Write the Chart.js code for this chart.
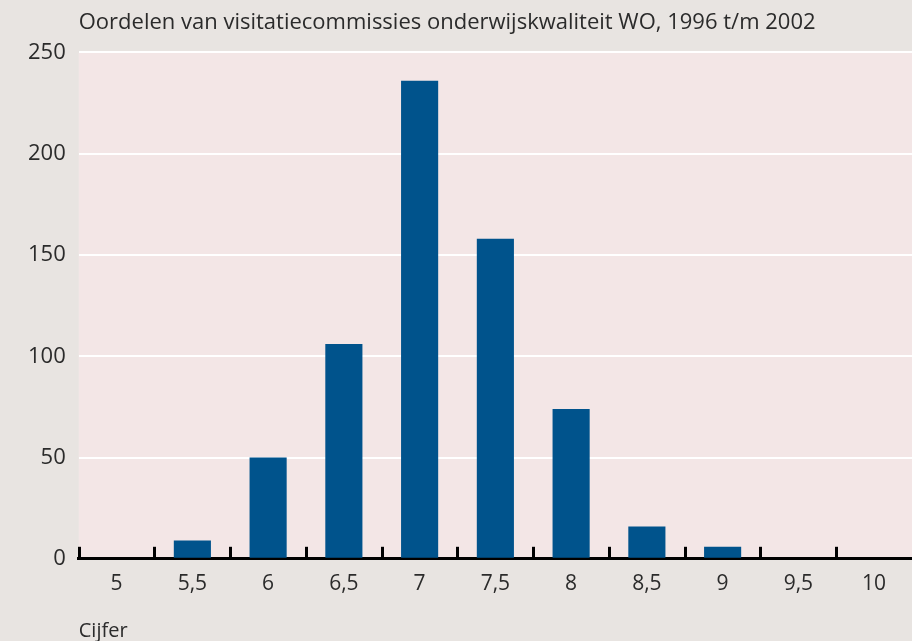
<!DOCTYPE html>
<html>
<head>
<meta charset="utf-8">
<script src="https://cdn.jsdelivr.net/npm/chart.js@4/dist/chart.umd.min.js"></script>
<style>
  html, body { margin: 0; padding: 0; background: #e8e4e1; }
  #wrap { width: 912px; height: 641px; }
</style>
</head>
<body>
<div id="wrap"><canvas id="chartCijfers" width="912" height="641"></canvas></div>
<script>
// oordelen per cijfer
const cijfers = ['5', '5,5', '6', '6,5', '7', '7,5', '8', '8,5', '9', '9,5', '10']
const aantallen = [0, 9, 50, 106, 236, 158, 74, 16, 6, 0, 0]
const yTicks = [0, 50, 100, 150, 200, 250]

const fontFam = '"Open Sans", Lato, sans-serif'
const tekst = '#2b2b2b'

// roze plotvlak
const plotAchtergrond = {
  id: 'plotAchtergrond',
  beforeDraw(chart) {
    const { ctx, chartArea } = chart
    ctx.save()
    ctx.fillStyle = '#f3e6e6'
    ctx.fillRect(chartArea.left, chartArea.top, chartArea.right - chartArea.left, chartArea.bottom - chartArea.top)
    ctx.restore()
  }
}

// korte streepjes omhoog tussen de categorieen
const streepjes = {
  id: 'streepjes',
  afterDatasetsDraw(chart) {
    const { ctx } = chart
    const x = chart.scales.x
    const n = cijfers.length
    const stap = (x.right - x.left) / n
    ctx.save()
    ctx.strokeStyle = '#000'
    ctx.lineWidth = 3
    for (let i = 0; i < n; i++) {
      const px = Math.round(x.left + i * stap) + 0.5
      ctx.beginPath()
      ctx.moveTo(px, x.top)
      ctx.lineTo(px, x.top - 12)
      ctx.stroke()
    }
    ctx.restore()
  }
}

const ctx = document.getElementById('chartCijfers').getContext('2d')
new Chart(ctx, {
  type: 'bar',
  data: {
    labels: cijfers,
    datasets: [{
      label: 'Aantal oordelen',
      data: aantallen,
      backgroundColor: '#00538c',
      barPercentage: 0.49,
      categoryPercentage: 1
    }]
  },
  options: {
    responsive: false,
    animation: false,
    layout: { padding: { left: 15, right: 0, top: 0, bottom: 0 } },
    plugins: {
      legend: { display: false },
      tooltip: { enabled: false },
      title: {
        display: true,
        text: 'Oordelen van visitatiecommissies onderwijskwaliteit WO, 1996 t/m 2002',
        align: 'start',
        fullSize: false,
        color: tekst,
        font: { family: fontFam, size: 22, weight: 'normal' },
        padding: { top: 10, bottom: 16 }
      }
    },
    scales: {
      x: {
        grid: { display: false },
        border: { display: true, color: '#000', width: 3 },
        ticks: {
          color: tekst,
          font: { family: fontFam, size: 21 },
          padding: 5,
          maxRotation: 0
        },
        title: {
          display: true,
          text: 'Cijfer',
          align: 'start',
          color: tekst,
          font: { family: fontFam, size: 20 },
          padding: { top: 17, bottom: -2 }
        }
      },
      y: {
        min: 0,
        max: 250,
        afterBuildTicks(scale) {
          scale.ticks = yTicks.map(v => ({ value: v }))
        },
        grid: { color: '#ffffff', lineWidth: 2, drawTicks: false },
        border: { display: false },
        ticks: {
          color: tekst,
          font: { family: fontFam, size: 22 },
          padding: 13
        }
      }
    }
  },
  plugins: [plotAchtergrond, streepjes]
})
</script>
</body>
</html>
